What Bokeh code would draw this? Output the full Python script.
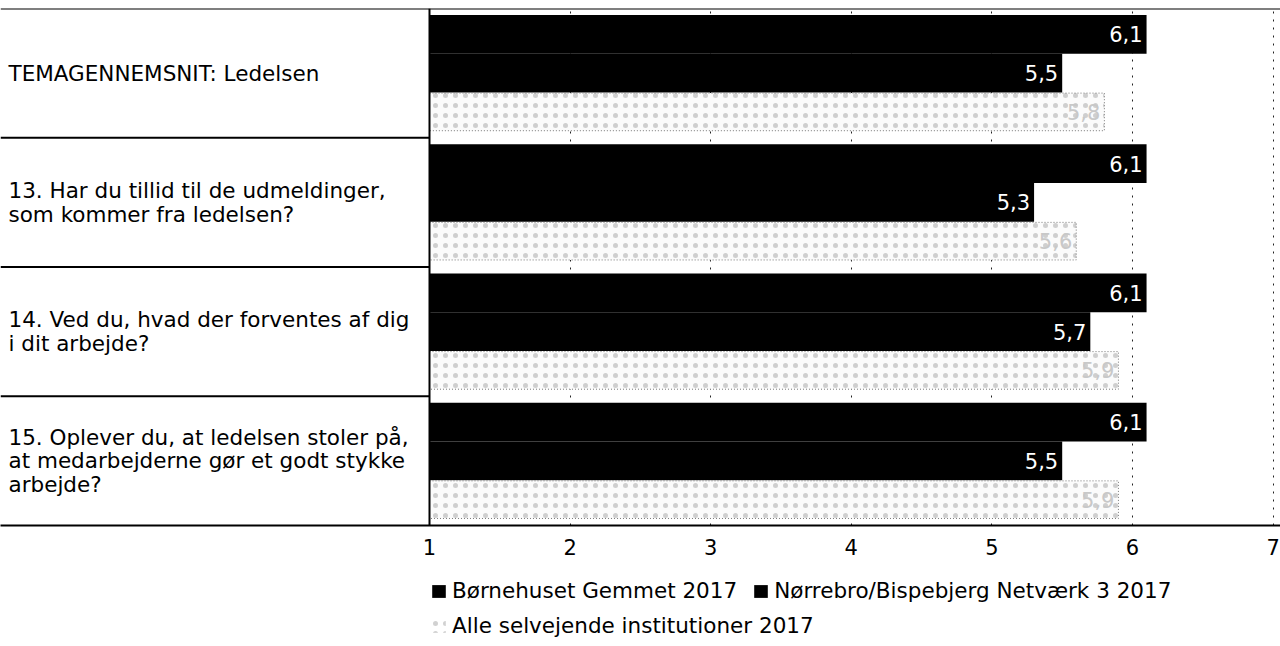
from bokeh.plotting import figure
from bokeh.layouts import column
from bokeh.models import (FactorRange, Range1d, ColumnDataSource, FixedTicker,
                          Span, Legend, LegendItem)
from bokeh.transform import dodge
from bokeh.core.properties import value
from bokeh.embed import file_html
from bokeh.resources import INLINE

# ---------------- data ----------------
group_keys = ["T", "13", "14", "15"]
group_labels = [
    "TEMAGENNEMSNIT: Ledelsen",
    "13. Har du tillid til de udmeldinger,\nsom kommer fra ledelsen?",
    "14. Ved du, hvad der forventes af dig\ni dit arbejde?",
    "15. Oplever du, at ledelsen stoler på,\nat medarbejderne gør et godt stykke\narbejde?",
]
series_names = ["Børnehuset Gemmet 2017",
                "Nørrebro/Bispebjerg Netværk 3 2017",
                "Alle selvejende institutioner 2017"]
gemmet = [6.1, 6.1, 6.1, 6.1]
netvaerk = [5.5, 5.3, 5.7, 5.5]
alle = [5.8, 5.6, 5.9, 5.9]
x_ticks = [1, 2, 3, 4, 5, 6, 7]

def fmt(v):
    return f"{v:.1f}".replace(".", ",")

src = ColumnDataSource(dict(
    key=group_keys, label=group_labels,
    gemmet=gemmet, netvaerk=netvaerk, alle=alle,
    gemmet_lbl=[fmt(v) for v in gemmet],
    netvaerk_lbl=[fmt(v) for v in netvaerk],
    alle_lbl=[fmt(v) for v in alle],
))
sep_src = ColumnDataSource(dict(key=group_keys[:-1]))

FONT = "DejaVu Sans"
FS = "21px"
W = 1280
H1, H2 = 565, 81
PX_PER_UNIT = 140.6
LEFT_PX = 429
x_start = 1 - LEFT_PX / PX_PER_UNIT
x_end = 1 + (W - LEFT_PX) / PX_PER_UNIT

p = figure(width=W, height=H1, output_backend="svg", toolbar_location=None,
           x_range=Range1d(x_start, x_end),
           y_range=FactorRange(factors=list(reversed(group_keys)), range_padding=0),
           y_axis_location=None, min_border_left=0, min_border_right=0,
           min_border_top=8, min_border_bottom=40)
p.outline_line_color = None
p.background_fill_color = "white"
p.border_fill_color = "white"

# grid
p.ygrid.visible = False
p.xgrid.ticker = FixedTicker(ticks=x_ticks)
p.xgrid.grid_line_color = "#222222"
p.xgrid.grid_line_dash = "2 6"
p.xgrid.grid_line_width = 1

# axis
ax = p.xaxis[0]
ax.ticker = FixedTicker(ticks=x_ticks)
ax.axis_line_color = "black"
ax.axis_line_width = 2
ax.major_tick_in = 0
ax.major_tick_out = 0
ax.minor_tick_in = 0
ax.minor_tick_out = 0
ax.major_label_standoff = 13
ax.major_label_text_font = FONT
ax.major_label_text_font_size = FS
ax.major_label_text_color = "black"

BH = 0.3
bar1 = dict(fill_color="black", line_color=None)
bar2 = dict(fill_color="black", line_color=None)
bar3 = dict(fill_color="#fbfbfb", hatch_pattern="dot", hatch_color="#8c8c8c",
            hatch_scale=10, hatch_weight=1, hatch_alpha=0.4,
            line_color="#777777", line_dash="1 2", line_width=1)

p.hbar(y=dodge("key", BH, range=p.y_range), left=1, right="gemmet",
       height=BH, source=src, **bar1)
p.hbar(y=dodge("key", 0, range=p.y_range), left=1, right="netvaerk",
       height=BH, source=src, **bar2)
p.hbar(y=dodge("key", -BH, range=p.y_range), left=1, right="alle",
       height=BH * 0.97, source=src, **bar3)

# value labels
p.text(x="gemmet", y=dodge("key", BH, range=p.y_range), text="gemmet_lbl",
       source=src, text_align="right", text_baseline="middle", x_offset=-4,
       text_color="white", text_font=value(FONT), text_font_size=FS)
p.text(x="netvaerk", y=dodge("key", 0, range=p.y_range), text="netvaerk_lbl",
       source=src, text_align="right", text_baseline="middle", x_offset=-4,
       text_color="white", text_font=value(FONT), text_font_size=FS)
p.text(x="alle", y=dodge("key", -BH, range=p.y_range), text="alle_lbl",
       source=src, text_align="right", text_baseline="middle", x_offset=-4,
       text_color="#c8c8c8", text_font=value(FONT), text_font_size=FS)

# category labels
p.text(x=x_start, y="key", text="label", source=src, text_align="left",
       text_baseline="middle", x_offset=8, text_color="black",
       text_font=value(FONT), text_font_size="21.5px", text_line_height=0.95)

# frame lines
p.segment(x0=x_start, x1=1, y0=dodge("key", -0.5, range=p.y_range),
          y1=dodge("key", -0.5, range=p.y_range), source=sep_src,
          line_color="black", line_width=2)
p.add_layout(Span(location=len(group_keys), dimension="width",
                  line_color="black", line_width=2))
p.add_layout(Span(location=1, dimension="height", line_color="black",
                  line_width=2))

# ---------------- legend strip ----------------
lp = figure(width=W, height=H2, output_backend="svg", toolbar_location=None,
            x_range=Range1d(0, 1), y_range=Range1d(0, 1),
            x_axis_location=None, y_axis_location=None,
            min_border=0)
lp.outline_line_color = None
lp.grid.visible = False
# legend proxies: one off-screen row each, only their legend swatches show
proxy = ColumnDataSource(dict(y=[5], left=[5], right=[6]))
l1 = lp.hbar(y="y", left="left", right="right", height=1, source=proxy, **bar1)
l2 = lp.hbar(y="y", left="left", right="right", height=1, source=proxy, **bar2)
l3 = lp.hbar(y="y", left="left", right="right", height=1, source=proxy,
             fill_color="white", hatch_pattern="dot", hatch_color="#8c8c8c",
             hatch_scale=10, hatch_alpha=0.4, line_color=None)

def make_legend(items, loc):
    return Legend(items=items, location=loc, orientation="horizontal",
                  padding=0, margin=0, spacing=15, label_standoff=5,
                  glyph_width=17, glyph_height=16, label_height=22,
                  label_text_font=FONT, label_text_font_size="21.5px",
                  label_text_color="black", label_text_baseline="middle",
                  border_line_alpha=0, background_fill_alpha=0)

lp.add_layout(make_legend([LegendItem(label=series_names[0], renderers=[l1]),
                           LegendItem(label=series_names[1], renderers=[l2])],
                          (LEFT_PX + 1, 43)))
lp.add_layout(make_legend([LegendItem(label=series_names[2], renderers=[l3])],
                          (LEFT_PX + 1, 8)))

layout = column(p, lp, spacing=0)
open("out.html", "w").write(file_html(layout, INLINE))
